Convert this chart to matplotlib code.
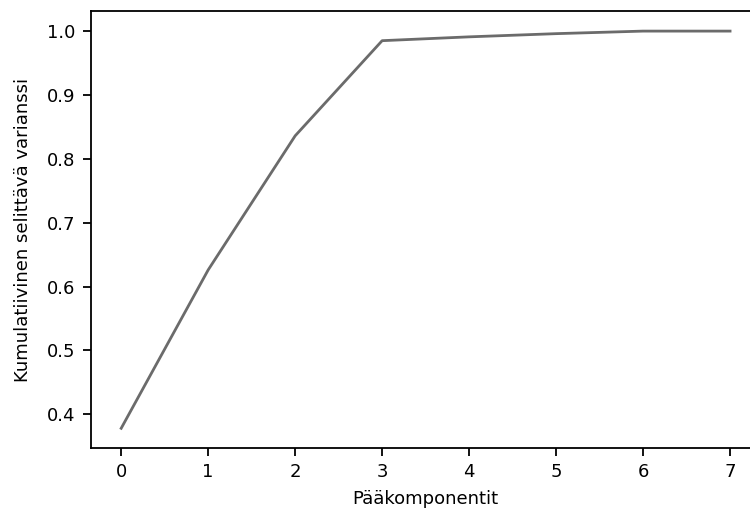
import matplotlib
matplotlib.use('Agg')
import matplotlib.pyplot as plt

# kumulatiivinen selitetty varianssi per pääkomponentti
components = [0, 1, 2, 3, 4, 5, 6, 7]
cum_variance = [0.378, 0.626, 0.836, 0.985, 0.991, 0.996, 1.0, 1.0]

plt.rcParams['font.size'] = 13

fig = plt.figure(figsize=(7.5, 5.11), dpi=100)
# oikea reuna jää kuvan ulkopuolelle kuten alkuperäisessä
ax = fig.add_axes([0.121, 0.123, 0.893, 0.855])
ax.plot(components, cum_variance, color='#6b6b6b', linewidth=2)
ax.set_xlabel('Pääkomponentit', labelpad=6)
ax.set_ylabel('Kumulatiivinen selittävä varianssi', labelpad=11)
ax.set_yticks([0.4, 0.5, 0.6, 0.7, 0.8, 0.9, 1.0])
for s in ax.spines.values():
    s.set_linewidth(1.3)
ax.spines['right'].set_visible(False)
ax.tick_params(width=1.3, length=6, pad=5)

fig.savefig('out.png', dpi=100)
